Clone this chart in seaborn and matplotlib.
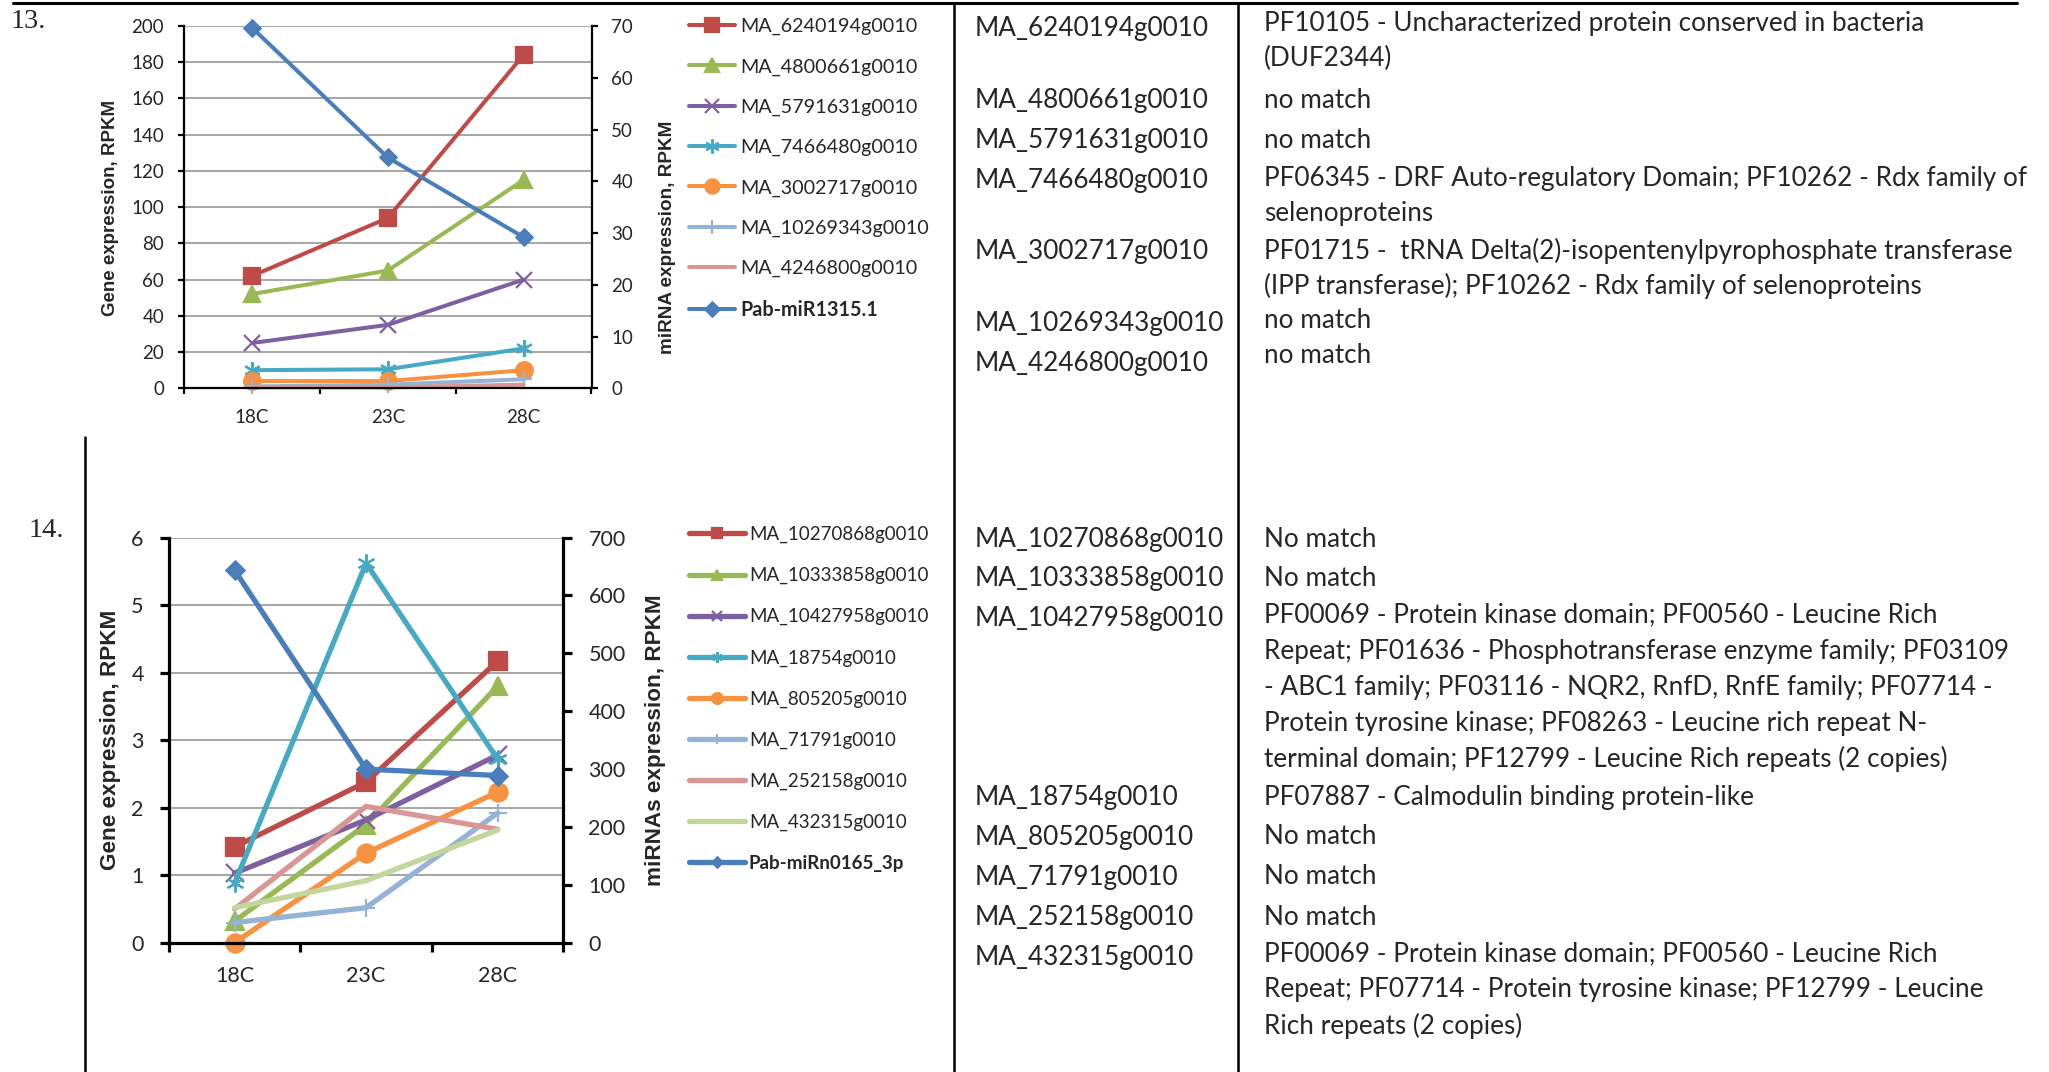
import numpy as np
import pandas as pd
import seaborn as sns
import matplotlib.pyplot as plt
from matplotlib.lines import Line2D

W, H = 2049, 1072

temps = ['18C', '23C', '28C']

# ---- block 13 ----
genes13 = ['MA_6240194g0010', 'MA_4800661g0010', 'MA_5791631g0010', 'MA_7466480g0010',
           'MA_3002717g0010', 'MA_10269343g0010', 'MA_4246800g0010']
expr13 = [[62, 94, 184], [52, 65, 115], [25, 35, 60], [10, 10.5, 22],
          [4, 4, 10], [1, 2, 5], [0.5, 0.5, 2]]
mirna13 = 'Pab-miR1315.1'
mirna13_expr = [69.7, 44.6, 29.2]
annot13 = ['PF10105 - Uncharacterized protein conserved in bacteria\n(DUF2344)',
           'no match',
           'no match',
           'PF06345 - DRF Auto-regulatory Domain; PF10262 - Rdx family of\nselenoproteins',
           'PF01715 -  tRNA Delta(2)-isopentenylpyrophosphate transferase\n(IPP transferase); PF10262 - Rdx family of selenoproteins',
           'no match',
           'no match']

# ---- block 14 ----
genes14 = ['MA_10270868g0010', 'MA_10333858g0010', 'MA_10427958g0010', 'MA_18754g0010',
           'MA_805205g0010', 'MA_71791g0010', 'MA_252158g0010', 'MA_432315g0010']
expr14 = [[1.42, 2.38, 4.17], [0.32, 1.75, 3.8], [1.03, 1.82, 2.78], [0.88, 5.62, 2.72],
          [0.0, 1.33, 2.23], [0.3, 0.52, 1.92], [0.5, 2.02, 1.68], [0.52, 0.92, 1.67]]
mirna14 = 'Pab-miRn0165_3p'
mirna14_expr = [644, 300, 289]
annot14 = ['No match',
           'No match',
           'PF00069 - Protein kinase domain; PF00560 - Leucine Rich\n'
           'Repeat; PF01636 - Phosphotransferase enzyme family; PF03109\n'
           '- ABC1 family; PF03116 - NQR2, RnfD, RnfE family; PF07714 -\n'
           'Protein tyrosine kinase; PF08263 - Leucine rich repeat N-\n'
           'terminal domain; PF12799 - Leucine Rich repeats (2 copies)',
           'PF07887 - Calmodulin binding protein-like',
           'No match',
           'No match',
           'No match',
           'PF00069 - Protein kinase domain; PF00560 - Leucine Rich\n'
           'Repeat; PF07714 - Protein tyrosine kinase; PF12799 - Leucine\n'
           'Rich repeats (2 copies)']

# excel 2007 series colours / markers
colors = ['#BE4B48', '#98B954', '#7D60A0', '#46AAC5', '#F69240', '#95B3D7', '#D99694', '#C3D69B']
markers = ['s', '^', 'x', (6, 2, 0), 'o', '+', None, None]
mirna_color = '#4A7EBB'

sns.set_style('ticks')
plt.rcParams['font.family'] = ['Lato', 'DejaVu Sans']

fig = plt.figure(figsize=(W / 100, H / 100), dpi=100)


def fx(px):
    return px / W


def fy(py):
    return 1 - py / H


def panel(rect, genes, expr, mirna, mirna_vals, ylim, yticks, ylim2, yticks2,
          lw, ms, spine_w, tick_fs, tick_len, ypad, xpad):
    ax = fig.add_axes(rect)
    ax2 = ax.twinx()
    for i, (g, vals) in enumerate(zip(genes, expr)):
        sns.lineplot(x=temps, y=vals, ax=ax, color=colors[i], marker=markers[i],
                     markersize=ms, mec=colors[i], mfc=colors[i], mew=1.6,
                     lw=lw, errorbar=None, legend=False, label=g, clip_on=False)
    sns.lineplot(x=temps, y=mirna_vals, ax=ax2, color=mirna_color, marker='D',
                 markersize=ms * 0.75, mec=mirna_color, mfc=mirna_color,
                 lw=lw, errorbar=None, legend=False, label=mirna, clip_on=False)

    ax.set_xlim(-0.5, 2.5)
    ax.set_ylim(*ylim)
    ax.set_yticks(yticks)
    ax2.set_ylim(*ylim2)
    ax2.set_yticks(yticks2)
    ax.set_xlabel('')
    ax.set_ylabel('')
    ax2.set_ylabel('')

    ax.yaxis.grid(True, color='#A6A6A6', lw=1.4)
    ax.set_axisbelow(True)
    ax2.grid(False)

    ax.set_xticks([-0.5, 0.5, 1.5, 2.5], minor=True)
    ax.tick_params(axis='x', which='major', length=0, pad=xpad, labelsize=tick_fs)
    ax.tick_params(axis='x', which='minor', length=tick_len, width=spine_w, color='black')
    ax.tick_params(axis='y', length=tick_len, width=spine_w, pad=ypad, labelsize=tick_fs, color='black')
    ax2.tick_params(axis='y', length=tick_len, width=spine_w, pad=ypad, labelsize=tick_fs, color='black')

    for s in ['top', 'right']:
        ax.spines[s].set_visible(False)
    for s in ['top', 'left', 'bottom']:
        ax2.spines[s].set_visible(False)
    for sp in [ax.spines['left'], ax.spines['bottom'], ax2.spines['right']]:
        sp.set_color('black')
        sp.set_linewidth(spine_w)

    h1, l1 = ax.get_legend_handles_labels()
    h2, l2 = ax2.get_legend_handles_labels()
    return ax, ax2, h1 + h2, l1 + l2


# ---- chart 13 ----
ax13, ax13b, h, l = panel([fx(184), fy(388.3), fx(591.5) - fx(184), fy(26) - fy(388.3)],
                          genes13, expr13, mirna13, mirna13_expr,
                          (0, 200), np.arange(0, 201, 20), (0, 70), np.arange(0, 71, 10),
                          lw=2.9, ms=12, spine_w=1.6, tick_fs=13.5, tick_len=4.3,
                          ypad=10, xpad=15)
leg = fig.legend(h, l, loc='upper left', bbox_to_anchor=(fx(689), fy(18)),
                 frameon=False, fontsize=14.2, handlelength=2.31, handletextpad=0.28,
                 labelspacing=1.17, borderpad=0, borderaxespad=0, markerscale=0.85)
leg.get_texts()[-1].set_fontweight('bold')

fig.text(fx(110.7), fy(207.5), 'Gene expression, RPKM', rotation=90, ha='center', va='center',
         fontsize=13.5, fontweight='bold', family='Liberation Sans')
fig.text(fx(668), fy(237.5), 'miRNA expression, RPKM', rotation=90, ha='center', va='center',
         fontsize=13.6, fontweight='bold', family='Liberation Sans')

# ---- chart 14 ----
ax14, ax14b, h, l = panel([fx(168.75), fy(942.8), fx(563.4) - fx(168.75), fy(537.6) - fy(942.8)],
                          genes14, expr14, mirna14, mirna14_expr,
                          (0, 6), np.arange(0, 7, 1), (0, 700), np.arange(0, 701, 100),
                          lw=3.8, ms=13, spine_w=2.3, tick_fs=15.5, tick_len=6.5,
                          ypad=11.5, xpad=17)
leg = fig.legend(h, l, loc='upper left', bbox_to_anchor=(fx(689), fy(526)),
                 frameon=False, fontsize=13.5, handlelength=2.96, handletextpad=0.23,
                 labelspacing=1.27, borderpad=0, borderaxespad=0, markerscale=0.6)
leg.get_texts()[-1].set_fontweight('bold')

fig.text(fx(110.7), fy(740), 'Gene expression, RPKM', rotation=90, ha='center', va='center',
         fontsize=16.2, fontweight='bold', family='Liberation Sans')
fig.text(fx(656), fy(740.4), 'miRNAs expression, RPKM', rotation=90, ha='center', va='center',
         fontsize=16.2, fontweight='bold', family='Liberation Sans')

# ---- table frame ----
fig.add_artist(Line2D([fx(13), fx(2017)], [fy(3), fy(3)], color='black', lw=2.2))
fig.add_artist(Line2D([fx(954), fx(954)], [fy(3), fy(H)], color='black', lw=1.8))
fig.add_artist(Line2D([fx(1238), fx(1238)], [fy(3), fy(H)], color='black', lw=1.8))
fig.add_artist(Line2D([fx(85), fx(85)], [fy(437), fy(H)], color='black', lw=1.8))

fig.text(fx(11), fy(21), '13.', ha='left', va='center', fontsize=20.5, family='Liberation Serif')
fig.text(fx(29), fy(530.7), '14.', ha='left', va='center', fontsize=20.5, family='Liberation Serif')

# ---- table text ----
text_fs = 18.8
dy = 3.5
genes13_y = [25, 96.7, 136.7, 176.7, 248.3, 320, 360]
annot13_y = [20, 96.7, 136.7, 175, 247, 316.7, 351.7]
genes14_y = [535.6, 575, 615.4, 794, 834.4, 873.5, 913.8, 954.1]
annot14_y = [535.6, 575, 611.4, 794, 833, 873.5, 913.8, 950]

for g, y in zip(genes13, genes13_y):
    fig.text(fx(975), fy(y + dy), g, ha='left', va='center', fontsize=text_fs)
for a, y in zip(annot13, annot13_y):
    for k, line in enumerate(a.split('\n')):
        fig.text(fx(1264), fy(y + dy + k * 35), line, ha='left', va='center', fontsize=text_fs)
for g, y in zip(genes14, genes14_y):
    fig.text(fx(975), fy(y + dy), g, ha='left', va='center', fontsize=text_fs)
for a, y in zip(annot14, annot14_y):
    for k, line in enumerate(a.split('\n')):
        fig.text(fx(1264), fy(y + dy + k * 36.1), line, ha='left', va='center', fontsize=text_fs)

fig.savefig('out.png', dpi=100)
